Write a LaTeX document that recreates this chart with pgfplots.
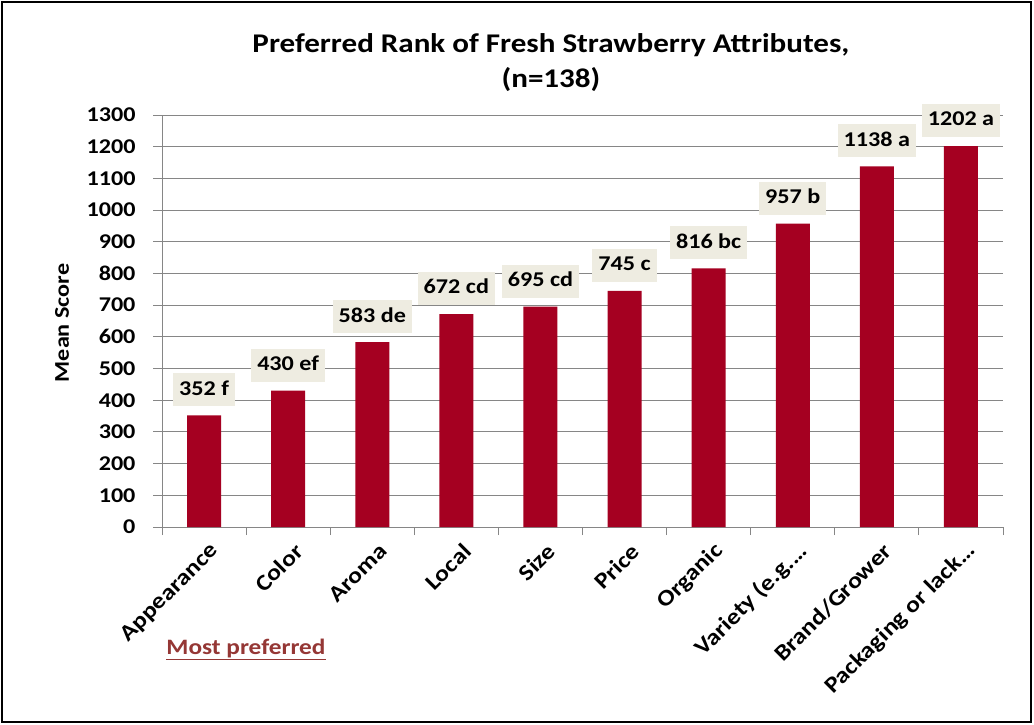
\documentclass[border=0pt]{standalone}
\usepackage{pgfplots}
\usepackage{pgfplotstable}
\pgfplotsset{compat=1.18}
\usepackage{fontspec}
\setmainfont{Carlito}[FakeStretch=1.15]
\definecolor{barred}{RGB}{165,0,33}
\definecolor{labelbg}{RGB}{238,236,225}
\definecolor{axgray}{RGB}{134,134,134}
\definecolor{mostpref}{RGB}{149,55,53}
\pgfplotstableread[col sep=comma]{
x,y,lab
0,352,352 f
1,430,430 ef
2,583,583 de
3,672,672 cd
4,695,695 cd
5,745,745 c
6,816,816 bc
7,957,957 b
8,1138,1138 a
9,1202,1202 a
}\datatable
\begin{document}
\begin{tikzpicture}
\useasboundingbox (0,0) rectangle (1034bp,-725bp);
\fill[white] (0,0) rectangle (1034bp,-725bp);
\draw[line width=1.5bp,black] (2bp,-2bp) rectangle (1031bp,-722bp);
\node[font=\fontsize{27bp}{30bp}\selectfont\bfseries,align=center] at (551bp,-45bp) {Preferred Rank of Fresh Strawberry Attributes,};
\node[font=\fontsize{27bp}{30bp}\selectfont\bfseries,align=center] at (551bp,-80bp) {(n=138)};
\node[font=\fontsize{21bp}{24bp}\selectfont\bfseries,rotate=90] at (62bp,-323bp) {Mean Score};
\node[font=\fontsize{22bp}{26bp}\selectfont\bfseries,text=mostpref] at (246bp,-649bp) {\underline{Most preferred}};
\begin{axis}[
  scale only axis,
  width=841bp, height=412bp,
  at={(162bp,-527bp)}, anchor=south west,
  xmin=-0.5, xmax=9.5,
  ymin=0, ymax=1300,
  ytick={0,100,...,1300},
  xtick={0,...,9},
  xticklabels={Appearance,Color,Aroma,Local,Size,Price,Organic,{Variety (e.g.…},{Brand/Grower},{Packaging or lack…}},
  minor xtick={-0.5,0.5,...,9.5},
  every major x tick/.append style={draw=none},
  tick align=outside,
  major tick length=9bp,
  minor tick length=8bp,
  axis x line*=bottom,
  axis y line*=left,
  axis line style={axgray,line width=1bp},
  every tick/.style={axgray,line width=1bp},
  ymajorgrids,
  grid style={axgray,line width=1bp},
  /pgf/number format/assume math mode=true,
  /pgf/number format/1000 sep={},
  yticklabel style={font=\fontsize{21bp}{24bp}\selectfont\bfseries, xshift=-14bp},
  xticklabel style={font=\fontsize{22.5bp}{26bp}\selectfont\bfseries, rotate=45, anchor=east, xshift=3bp, yshift=-16bp},
  ybar, bar width=34bp,
  nodes near coords,
  point meta=explicit symbolic,
  every node near coord/.append style={font=\fontsize{21bp}{24bp}\selectfont\bfseries, fill=labelbg, anchor=south, yshift=9bp, text height=15bp, text depth=4bp, inner ysep=7bp, inner xsep=6bp},
]
\addplot[fill=barred, draw=none] table[x=x, y=y, meta=lab] {\datatable};
\end{axis}
\end{tikzpicture}
\end{document}
